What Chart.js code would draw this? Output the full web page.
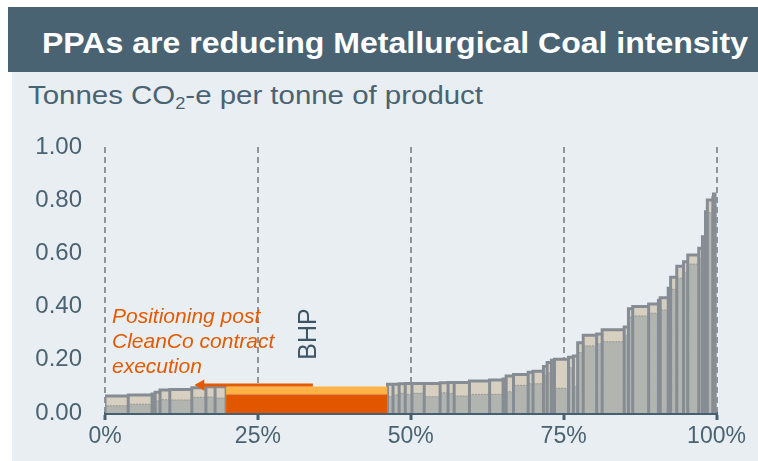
<!DOCTYPE html>
<html>
<head>
<meta charset="utf-8">
<title>PPAs are reducing Metallurgical Coal intensity</title>
<script src="https://cdn.jsdelivr.net/npm/chart.js@4.4.1/dist/chart.umd.min.js"></script>
<style>
  html, body { margin: 0; padding: 0; background: #ffffff; }
  body { width: 758px; height: 461px; position: relative; overflow: hidden;
         font-family: "Liberation Sans", Arial, sans-serif; }
  #panel { position: absolute; left: 12px; top: 72px; right: 0; bottom: 0; background: #e9eef2; }
  #band { position: absolute; left: 8px; top: 7px; right: 0; height: 65px; background: #4a6373; }
  .fit { position: absolute; white-space: nowrap; transform-origin: 0 0; }
  #title { left: 42px; top: 28px; font-size: 30px; line-height: 30px; font-weight: bold; color: #ffffff; }
  #subtitle { left: 28px; top: 82px; font-size: 26px; line-height: 26px; color: #4a6373; }
  #subtitle sub { font-size: 0.62em; vertical-align: -0.3em; line-height: 0; }
  #note { position: absolute; left: 112px; top: 303px; font-size: 21px; line-height: 25px;
          font-style: italic; color: #e35a00; white-space: nowrap; }
  #bhp { position: absolute; left: 307px; top: 334px; font-size: 25px; line-height: 25px; color: #3e5566;
         transform: translate(-50%, -50%) rotate(-90deg); white-space: nowrap; }
  canvas { position: absolute; left: 0; top: 0; }
</style>
</head>
<body>
<div id="panel"></div>
<div id="band"></div>
<div id="title" class="fit" data-width="706">PPAs are reducing Metallurgical Coal intensity</div>
<div id="subtitle" class="fit" data-width="455">Tonnes CO<sub>2</sub>-e per tonne of product</div>
<canvas id="curve" width="758" height="461"></canvas>
<div id="note">Positioning post<br>CleanCo contract<br>execution</div>
<div id="bhp">BHP</div>
<script>
// Share of seaborne metallurgical coal output (% of total) for each operation, lowest intensity first
const shareOfOutput = [3.8, 3.9, 0.5, 0.8, 1.6, 3.6, 2.3, 1.5, 1.8, 26.4,
  0.9, 1.0, 1.0, 1.1, 2.0, 2.6, 1.3, 1.0, 2.5, 3.3,
  2.2, 0.5, 1.2, 2.4, 0.8, 1.7, 0.6, 0.7, 0.5, 2.3,
  0.8, 0.7, 0.9, 2.2, 0.9, 3.6, 0.7, 0.7, 2.6, 1.6,
  0.3, 1.3, 0.4, 1.0, 1.1, 0.7, 1.8, 0.6, 0.5, 0.3,
  0.9, 0.1, 0.5];

// Total intensity (t CO2-e per t product)
const totalIntensity = [0.064, 0.068, 0.071, 0.078, 0.086, 0.088, 0.095, 0.099, 0.099, 0.100,
  0.108, 0.108, 0.110, 0.111, 0.111, 0.111, 0.114, 0.115, 0.115, 0.120,
  0.124, 0.128, 0.139, 0.145, 0.153, 0.157, 0.175, 0.190, 0.198, 0.202,
  0.210, 0.214, 0.264, 0.292, 0.297, 0.313, 0.323, 0.392, 0.400, 0.410,
  0.424, 0.433, 0.469, 0.510, 0.552, 0.569, 0.594, 0.619, 0.663, 0.757,
  0.801, 0.810, 0.823];

// Lower component of each operation's intensity
const lowerIntensity = [0.027, 0.033, 0.045, 0.045, 0.050, 0.049, 0.059, 0.060, 0.056, 0.070,
  0.061, 0.068, 0.074, 0.070, 0.074, 0.061, 0.076, 0.074, 0.064, 0.070,
  0.070, 0.090, 0.080, 0.104, 0.110, 0.110, 0.140, 0.150, 0.160, 0.093,
  0.170, 0.100, 0.227, 0.252, 0.260, 0.268, 0.290, 0.360, 0.365, 0.375,
  0.390, 0.387, 0.440, 0.465, 0.507, 0.530, 0.560, 0.580, 0.620, 0.720,
  0.753, 0.760, 0.778];

// Position of BHP in the curve
const bhpIndex = 9;

// "Positioning post CleanCo contract" arrow: start and end share (%), and level
const arrowShare = [34.0, 15.7];
const arrowLevel = [0.105, 0.105];

const xTickValues = [0, 25, 50, 75, 100];
const yTickValues = [0, 0.2, 0.4, 0.6, 0.8, 1.0];

// Cumulative edges of each operation along the x axis
const edges = [0];
shareOfOutput.forEach(w => edges.push(Math.round((edges[edges.length - 1] + w) * 10) / 10));

// Step outline tracing each block as a rectangle standing on zero
function blocks(heights, pick) {
  const pts = [];
  heights.forEach((h, i) => {
    if (!pick(i)) return;
    pts.push({x: edges[i], y: 0}, {x: edges[i], y: h}, {x: edges[i + 1], y: h}, {x: edges[i + 1], y: 0});
  });
  return pts;
}
const others = i => i !== bhpIndex;
const bhpOnly = i => i === bhpIndex;
const othersTotal = totalIntensity.map((v, i) => others(i) ? v : 0);
const othersLower = lowerIntensity.map((v, i) => others(i) ? v : 0);

const ink = '#4a6373';
const base = {type: 'line', pointRadius: 0, tension: 0, borderJoinStyle: 'miter', borderCapStyle: 'butt'};

const datasets = [
  { ...base, label: 'arrow',
    data: arrowShare.map((x, i) => ({x, y: arrowLevel[i]})),
    borderColor: '#e35a00', borderWidth: 3, fill: false,
    pointRadius: [0, 6.5], pointStyle: 'triangle', pointRotation: -90,
    pointBackgroundColor: '#e35a00', pointBorderColor: '#e35a00', pointBorderWidth: 0 },
  { ...base, label: 'bhp split',
    data: [{x: edges[bhpIndex], y: lowerIntensity[bhpIndex]}, {x: edges[bhpIndex + 1], y: lowerIntensity[bhpIndex]}],
    borderColor: '#dc8f4e', borderWidth: 1, fill: false },
  { ...base, label: 'bhp lower',
    data: blocks(lowerIntensity, bhpOnly),
    borderWidth: 0, backgroundColor: '#e35600', fill: 'origin' },
  { ...base, label: 'bhp total',
    data: blocks(totalIntensity, bhpOnly),
    borderWidth: 0, backgroundColor: '#ffb347', fill: 'origin' },
  { ...base, label: 'outline',
    data: blocks(othersTotal, () => true),
    borderColor: '#868c93', borderWidth: 3, fill: false },
  { ...base, label: 'lower',
    data: blocks(othersLower, () => true),
    borderColor: '#96958f', borderWidth: 1, borderDash: [2, 1], backgroundColor: '#b2b4b0', fill: 'origin' },
  { ...base, label: 'total',
    data: blocks(othersTotal, () => true),
    borderWidth: 0, backgroundColor: '#d7d0c1', fill: 'origin' }
];

new Chart(document.getElementById('curve'), {
  type: 'line',
  data: {datasets},
  options: {
    responsive: false,
    animation: false,
    devicePixelRatio: 1,
    layout: {padding: {top: 147, right: 41.5, bottom: 0, left: 0}},
    plugins: {legend: {display: false}, tooltip: {enabled: false}},
    events: [],
    scales: {
      x: {
        type: 'linear', min: 0, max: 100,
        afterBuildTicks: s => { s.ticks = xTickValues.map(v => ({value: v})); },
        afterFit: s => { s.height = 48; },
        ticks: {callback: v => v + '%', color: ink, font: {family: 'Liberation Sans', size: 23},
                padding: 3, maxRotation: 0, autoSkip: false},
        grid: {color: '#8e959b', lineWidth: 2, drawTicks: true, tickLength: 7,
               tickColor: '#46606f', tickWidth: 3, tickBorderDash: []},
        border: {display: true, color: '#46606f', width: 3, dash: [6, 4]}
      },
      y: {
        min: 0, max: 1,
        afterBuildTicks: s => { s.ticks = yTickValues.map(v => ({value: v})); },
        afterFit: s => { s.width = 105; },
        ticks: {callback: v => v.toFixed(2), color: ink, font: {family: 'Liberation Sans', size: 24}, padding: 23},
        grid: {display: false, drawTicks: false},
        border: {display: false}
      }
    }
  }
});

// Stretch heading lines to their set widths
document.querySelectorAll('.fit').forEach(el => {
  const w = el.getBoundingClientRect().width;
  el.style.transform = 'scaleX(' + (Number(el.dataset.width) / w) + ')';
});
</script>
</body>
</html>
